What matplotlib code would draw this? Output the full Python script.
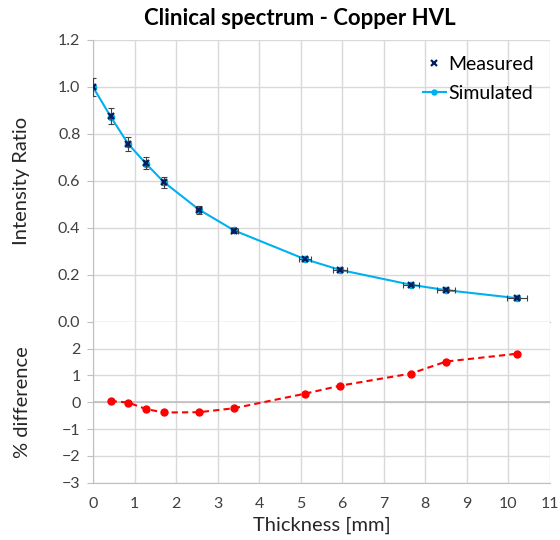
import matplotlib
matplotlib.use("Agg")
import matplotlib.pyplot as plt

# data
thickness = [0, 0.425, 0.85, 1.275, 1.7, 2.55, 3.4, 5.1, 5.95, 7.65, 8.5, 10.2]
measured = [1.0, 0.876, 0.756, 0.676, 0.594, 0.478, 0.388, 0.268, 0.222, 0.158, 0.135, 0.101]
meas_yerr = [0.04, 0.034, 0.03, 0.026, 0.024, 0.017, 0.01, 0.006, 0.005, 0.004, 0.004, 0.003]
meas_xerr = [0.0, 0.01, 0.02, 0.03, 0.04, 0.06, 0.08, 0.14, 0.16, 0.19, 0.21, 0.24]
simulated = [1.0, 0.874, 0.757, 0.674, 0.596, 0.478, 0.389, 0.267, 0.221, 0.158, 0.135, 0.101]

diff_x = thickness[1:]
pct_diff = [0.05, -0.01, -0.25, -0.38, -0.37, -0.22, 0.32, 0.62, 1.07, 1.52, 1.81]

plt.rcParams['font.family'] = ['Lato', 'DejaVu Sans']

fig = plt.figure(figsize=(5.6, 5.4), dpi=100)
ax1 = fig.add_axes([0.166, 0.404, 0.816, 0.522])
ax2 = fig.add_axes([0.166, 0.106, 0.816, 0.298])

grid_c = '#D9D9D9'
axis_c = '#BFBFBF'

for ax in (ax1, ax2):
    ax.set_xlim(0, 11)
    ax.set_xticks(range(0, 12))
    ax.grid(True, color=grid_c, linewidth=1)
    ax.set_axisbelow(True)
    for s in ('top', 'right'):
        ax.spines[s].set_visible(False)
    ax.spines['left'].set_color(axis_c)
    ax.spines['bottom'].set_color(axis_c)
    ax.tick_params(axis='y', length=4, color=axis_c, labelsize=11.5, pad=5)
    ax.tick_params(axis='x', length=0, labelsize=11.5, pad=10)
    for lab in ax.get_yticklabels() + ax.get_xticklabels():
        lab.set_color('#404040')

# upper panel
ax1.set_ylim(0, 1.2)
ax1.set_yticks([0, 0.2, 0.4, 0.6, 0.8, 1.0, 1.2])
ax1.set_yticklabels(['0.0', '0.2', '0.4', '0.6', '0.8', '1.0', '1.2'])
ax1.tick_params(axis='x', labelbottom=False)
ax1.plot(thickness, simulated, color='#00B0F0', linewidth=1.5, marker='o',
         markersize=4.5, label='Simulated', zorder=3)
ax1.errorbar(thickness, measured, yerr=meas_yerr, xerr=meas_xerr, fmt='none',
             ecolor='#404040', elinewidth=0.8, capsize=2, capthick=0.8, zorder=4)
ax1.plot(thickness, measured, linestyle='none', marker='x', markersize=5,
         markeredgewidth=1.6, color='#002060', label='Measured', zorder=5)
h, l = ax1.get_legend_handles_labels()
ax1.legend(h[::-1], l[::-1], loc='upper right', frameon=False, fontsize=14,
           handlelength=1.2, handletextpad=0.1, borderaxespad=0.2,
           labelspacing=0.6, bbox_to_anchor=(0.99, 0.985), markerscale=0.8)
ax1.set_ylabel('Intensity Ratio', fontsize=14.5, color='#262626', labelpad=20)
ax1.set_title('Clinical spectrum - Copper HVL', fontsize=16, fontweight='bold',
              color='#000000', pad=11, x=0.453)

# lower panel
ax2.set_ylim(-3, 3)
ax2.set_yticks([-3, -2, -1, 0, 1, 2])
ax2.axhline(0, color=axis_c, linewidth=1.2, zorder=1)
ax2.plot(diff_x, pct_diff, color='#FF0000', linestyle='--', linewidth=1.5,
         dashes=(3, 2), marker='o', markersize=5, zorder=3)
ax2.set_ylabel('% difference', fontsize=14.5, color='#262626', labelpad=22)
ax2.set_xlabel('Thickness [mm]', fontsize=14.5, color='#262626', labelpad=4)

fig.savefig('out.png', dpi=100)
